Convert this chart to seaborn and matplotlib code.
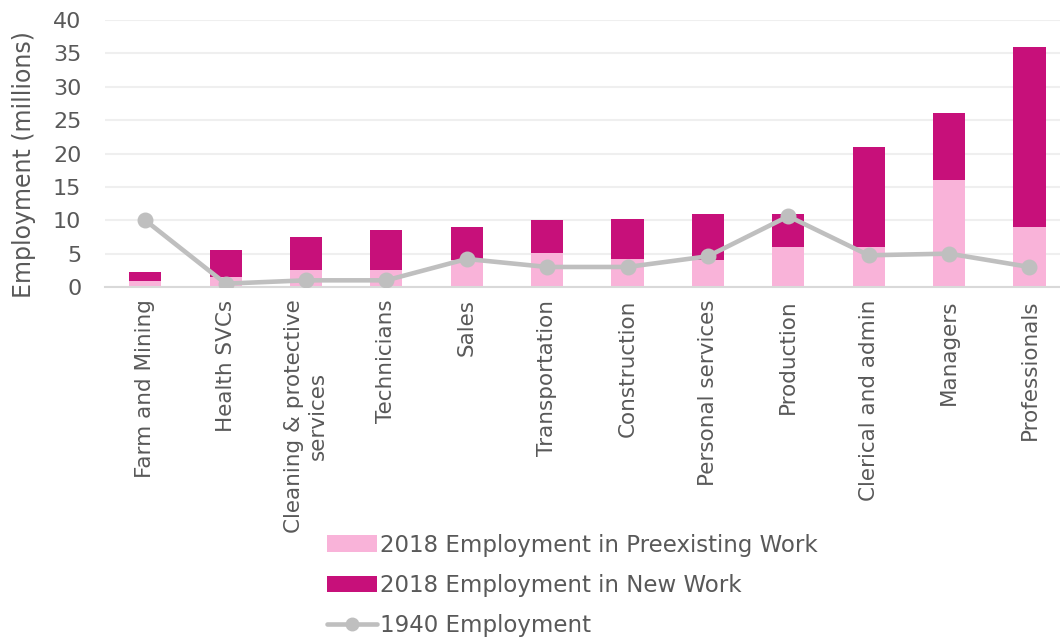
import matplotlib
matplotlib.use("Agg")
import matplotlib.pyplot as plt
import seaborn as sns
import pandas as pd
from matplotlib.patches import Patch
from matplotlib.lines import Line2D

categories = ["Farm and Mining", "Health SVCs", "Cleaning & protective\nservices",
              "Technicians", "Sales", "Transportation", "Construction",
              "Personal services", "Production", "Clerical and admin",
              "Managers", "Professionals"]
preexisting_2018 = [0.9, 1.5, 2.5, 2.5, 4.0, 5.1, 4.2, 4.0, 6.0, 6.0, 16.0, 9.0]
new_work_2018 = [1.3, 4.0, 5.0, 6.0, 5.0, 5.0, 6.0, 7.0, 5.0, 15.0, 10.0, 27.0]
employment_1940 = [10.0, 0.5, 1.0, 1.0, 4.2, 3.0, 3.0, 4.6, 10.6, 4.75, 5.0, 3.0]

PINK_LIGHT = "#f9b3d9"
PINK_DARK = "#c7107a"
GRAY = "#bfbfbf"
TEXT = "#595959"

sns.set_theme(style="white")
plt.rcParams["font.family"] = ["DejaVu Sans"]

df = pd.DataFrame({
    "category": categories,
    "pre": preexisting_2018,
    "new": new_work_2018,
    "y1940": employment_1940,
})
df["total"] = df["pre"] + df["new"]

fig = plt.figure(figsize=(10.6, 6.44), dpi=100)
ax = fig.add_axes([105 / 1060, 1 - 287 / 644, 955 / 1060, 267 / 644])

# stacked bars: full total in dark, preexisting part on top in light
sns.barplot(data=df, x="category", y="total", color=PINK_DARK, width=0.4,
            saturation=1, ax=ax, zorder=2, linewidth=0)
sns.barplot(data=df, x="category", y="pre", color=PINK_LIGHT, width=0.4,
            saturation=1, ax=ax, zorder=2, linewidth=0)
sns.pointplot(data=df, x="category", y="y1940", color=GRAY, markers="o",
              markersize=9, linewidth=3.3, ax=ax, zorder=3)
for coll in ax.collections:
    coll.set_zorder(4)

ax.set_ylim(0, 40)
ax.set_xlim(-0.5, 11.38)
ax.set_yticks(range(0, 41, 5))
ax.yaxis.grid(True, color="#efefef", linewidth=1.5, zorder=0)
ax.set_axisbelow(True)
for side in ["top", "right", "left"]:
    ax.spines[side].set_visible(False)
ax.spines["bottom"].set_color("#d9d9d9")
ax.spines["bottom"].set_linewidth(1.5)

ax.set_xlabel("")
ax.set_ylabel("Employment (millions)", fontsize=17, color=TEXT)
ax.yaxis.set_label_coords(-0.072, 0.46)
ax.tick_params(axis="y", length=0, pad=17, labelsize=16, labelcolor=TEXT)
ax.tick_params(axis="x", length=0, pad=9, labelsize=15.5, labelcolor=TEXT)
for lbl in ax.get_xticklabels():
    lbl.set_rotation(90)
    lbl.set_va("top")
    lbl.set_ha("center")
    lbl.set_multialignment("center")

handles = [
    Patch(facecolor=PINK_LIGHT, edgecolor="none"),
    Patch(facecolor=PINK_DARK, edgecolor="none"),
    Line2D([0], [0], color=GRAY, linewidth=3.3, marker="o", markersize=9),
]
labels = ["2018 Employment in Preexisting Work", "2018 Employment in New Work",
          "1940 Employment"]
leg = fig.legend(handles, labels, loc="upper left",
                 bbox_to_anchor=(306 / 1060, 1 - 513 / 644), frameon=False,
                 fontsize=16.5, labelcolor=TEXT, handlelength=2.2,
                 handleheight=0.75, handletextpad=0.15, labelspacing=0.76)

fig.savefig("out.png", dpi=100)
